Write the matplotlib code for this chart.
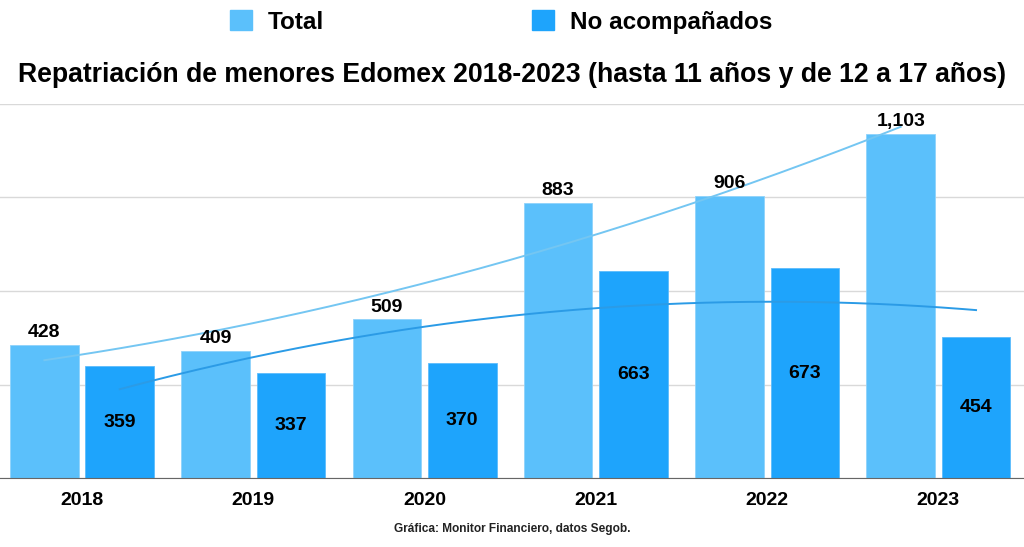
import numpy as np
import matplotlib.pyplot as plt
from matplotlib.patches import Patch

plt.rcParams['font.family'] = ['Liberation Sans', 'DejaVu Sans']

# data
years = ['2018', '2019', '2020', '2021', '2022', '2023']
total = [428, 409, 509, 883, 906, 1103]
no_acomp = [359, 337, 370, 663, 673, 454]

c_total = '#5bc0fb'
c_noac = '#1ea4fc'

fig = plt.figure(figsize=(10.24, 5.47), dpi=100)
ax = fig.add_axes([-0.003, 0.126, 1.003, 0.684])

x = np.arange(len(years))
off = 0.22
w = 0.40
ax.bar(x - off, total, w, color=c_total, edgecolor='#8fd3fb', linewidth=0.6, zorder=2)
ax.bar(x + off, no_acomp, w, color=c_noac, edgecolor='#5cbcfc', linewidth=0.6, zorder=2)

# polynomial (degree 2) trendlines, like the spreadsheet ones
xs = np.linspace(0, len(years) - 1, 200)
p_t = np.polyfit(x, total, 2)
p_n = np.polyfit(x, no_acomp, 2)
ax.plot(xs - off, np.polyval(p_t, xs), color='#74c6f2', lw=1.4, zorder=3)
ax.plot(xs + off, np.polyval(p_n, xs), color='#2b9be6', lw=1.4, zorder=3)

# value labels
for xi, v in zip(x, total):
    ax.text(xi - off, v + 12, f'{v:,}', ha='center', va='bottom',
            fontsize=14, fontweight='bold', zorder=4)
for xi, v in zip(x, no_acomp):
    ax.text(xi + off, v / 2, f'{v:,}', ha='center', va='center',
            fontsize=14, fontweight='bold', zorder=4)

ax.set_xlim(-0.5 + 0.003, len(years) - 0.5)
ax.set_ylim(0, 1200)
ax.set_yticks([0, 300, 600, 900, 1200])
ax.set_yticklabels([])
ax.tick_params(axis='y', length=0)
ax.grid(axis='y', color='#d9d9d9', lw=1, zorder=0)
ax.set_axisbelow(True)
ax.set_xticks(x)
ax.set_xticklabels(years, fontsize=14, fontweight='bold')
ax.tick_params(axis='x', length=0, pad=10)
for s in ['left', 'right', 'top']:
    ax.spines[s].set_visible(False)
ax.spines['bottom'].set_color('#666666')
ax.spines['bottom'].set_zorder(5)

fig.legend(handles=[Patch(color=c_total, label='Total'),
                    Patch(color=c_noac, label='No acompañados')],
           loc='center', bbox_to_anchor=(501 / 1024, 1 - 22 / 547),
           ncol=2, frameon=False, prop={'size': 17.5, 'weight': 'bold'},
           handlelength=0.9, handleheight=0.85, handletextpad=0.65,
           columnspacing=8.55)

fig.text(0.5, 1 - 75 / 547,
         'Repatriación de menores Edomex 2018-2023 (hasta 11 años y de 12 a 17 años)',
         ha='center', va='center', fontsize=19.2, fontweight='bold')

fig.text(0.5, 1 - 529 / 547, 'Gráfica: Monitor Financiero, datos Segob.',
         ha='center', va='center', fontsize=8.6, fontweight='bold', color='#222222')

fig.savefig('out.png', dpi=100)
